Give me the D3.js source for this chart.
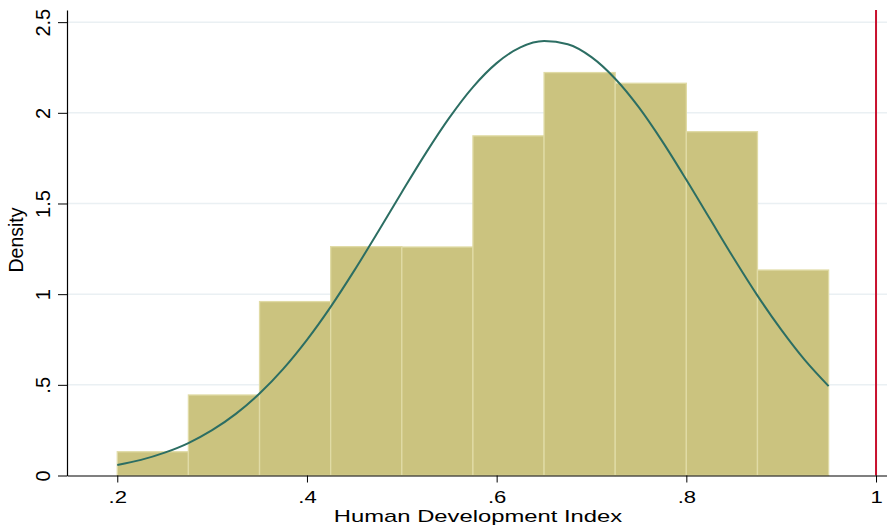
<!DOCTYPE html>
<html><head><meta charset="utf-8">
<script src="https://cdn.jsdelivr.net/npm/d3@7"></script>
<style>body{margin:0;background:#fff}svg{display:block}text{font-family:"Liberation Sans",Arial,sans-serif}</style>
</head><body>
<script>
const binEdges = [0.2,0.275,0.35,0.425,0.5,0.575,0.65,0.725,0.8,0.875,0.95];
const densities = [0.131,0.444,0.959,1.262,1.260,1.873,2.222,2.163,1.896,1.133];
const curveX = [0.2,0.225,0.25,0.275,0.3,0.325,0.35,0.375,0.4,0.425,0.45,0.475,0.5,0.525,0.55,0.575,0.6,0.625,0.65,0.675,0.7,0.725,0.75,0.775,0.8,0.825,0.85,0.875,0.9,0.925,0.95];
const curveY = [0.058,0.086,0.126,0.179,0.250,0.340,0.452,0.588,0.748,0.930,1.131,1.344,1.562,1.775,1.972,2.142,2.274,2.361,2.396,2.378,2.307,2.188,2.030,1.840,1.631,1.414,1.198,0.992,0.804,0.636,0.493];
const xTicks = [0.2,0.4,0.6,0.8,1];
const xTickLabels = [".2",".4",".6",".8","1"];
const yTicks = [0,0.5,1,1.5,2,2.5];
const yTickLabels = ["0",".5","1","1.5","2","2.5"];
const refLine = 1;

const W=887,H=526;
const svg=d3.select("body").append("svg").attr("width",W).attr("height",H);
const x=d3.scaleLinear().domain([0.147,1.02]).range([67,895]);
const y=d3.scaleLinear().domain([0,2.567]).range([475.5,10]);

// gridlines
svg.append("g").selectAll("line").data(yTicks.filter(d=>d>0)).join("line")
  .attr("x1",67).attr("x2",W).attr("y1",d=>y(d)).attr("y2",d=>y(d))
  .attr("stroke","#eaf0f3").attr("stroke-width",1.5);

// bars
const bins=densities.map((d,i)=>({x0:binEdges[i],x1:binEdges[i+1],v:d}));
svg.append("g").selectAll("rect").data(bins).join("rect")
  .attr("x",d=>x(d.x0)).attr("width",d=>x(d.x1)-x(d.x0))
  .attr("y",d=>y(d.v)).attr("height",d=>y(0)-y(d.v))
  .attr("fill","#cbc37f").attr("stroke","#e0dba6").attr("stroke-width",1.3);

// curve
const pts=curveX.map((v,i)=>[v,curveY[i]]);
svg.append("path").datum(pts)
  .attr("d",d3.line().x(d=>x(d[0])).y(d=>y(d[1])).curve(d3.curveMonotoneX))
  .attr("fill","none").attr("stroke","#2c6e63").attr("stroke-width",2);

// reference line
svg.append("line").attr("x1",x(refLine)).attr("x2",x(refLine)).attr("y1",y.range()[1]).attr("y2",y(0))
  .attr("stroke","#c8102e").attr("stroke-width",2);

// axes
const xAxis=d3.axisBottom(x).tickValues(xTicks).tickFormat((d,i)=>xTickLabels[i]).tickSize(7).tickSizeOuter(0);
const gx=svg.append("g").attr("transform",`translate(0,${y(0)})`).call(xAxis);
gx.select(".domain").attr("stroke","#000").attr("stroke-width",1.2);
gx.selectAll(".tick line").attr("stroke","#000");
gx.selectAll(".tick text").attr("font-size",17).attr("fill","#000")
  .attr("font-family","Liberation Sans, Arial, sans-serif")
  .attr("y",0).attr("dy",0).attr("transform","translate(0,27.5) scale(1.3,1)");

const yAxis=d3.axisLeft(y).tickValues(yTicks).tickFormat((d,i)=>yTickLabels[i]).tickSize(9).tickSizeOuter(0);
const gy=svg.append("g").attr("transform",`translate(67,0)`).call(yAxis);
gy.select(".domain").attr("stroke","#000").attr("stroke-width",1.2);
gy.selectAll(".tick line").attr("stroke","#000");
gy.selectAll(".tick text").attr("font-size",20).attr("fill","#000")
  .attr("font-family","Liberation Sans, Arial, sans-serif")
  .attr("text-anchor","middle").attr("x",0).attr("dy",0)
  .attr("transform","translate(-17,0) rotate(-90)");

// titles
svg.append("text").attr("transform","translate(478,522.2) scale(1.4,1)").attr("text-anchor","middle").attr("font-size",17).text("Human Development Index");
svg.append("text").attr("transform","translate(23,240) rotate(-90)").attr("text-anchor","middle").attr("font-size",19.5).text("Density");
</script>
</body></html>
